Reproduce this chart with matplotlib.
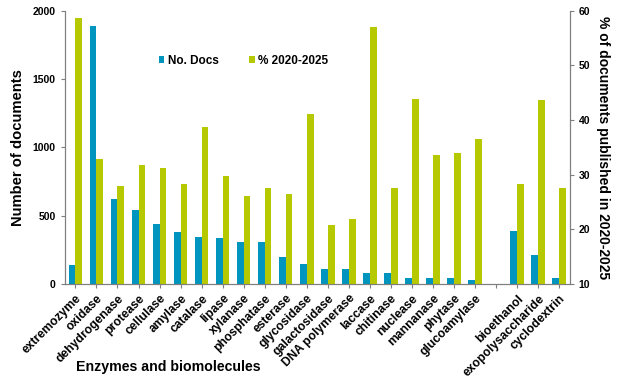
import matplotlib
matplotlib.use("Agg")
import matplotlib.pyplot as plt
import numpy as np

plt.rcParams['font.family'] = ['Liberation Sans', 'DejaVu Sans']
plt.rcParams['font.weight'] = 'bold'

# data ("" = empty gap slot)
categories = ["extremozyme", "oxidase", "dehydrogenase", "protease", "cellulase",
              "amylase", "catalase", "lipase", "xylanase", "phosphatase", "esterase",
              "glycosidase", "galactosidase", "DNA polymerase", "laccase", "chitinase",
              "nuclease", "mannanase", "phytase", "glucoamylase", "",
              "bioethanol", "exopolysaccharide", "cyclodextrin"]
no_docs = [140, 1890, 620, 540, 440, 380, 345, 340, 310, 310, 200,
           150, 110, 110, 80, 80, 45, 45, 45, 30, np.nan,
           385, 210, 45]
pct_2020_2025 = [58.6, 32.9, 27.9, 31.7, 31.2, 28.4, 38.8, 29.8, 26.2, 27.6, 26.4,
                 41.2, 20.9, 22.0, 57.1, 27.6, 43.8, 33.7, 33.9, 36.6, np.nan,
                 28.4, 43.6, 27.5]

blue = "#0095BF"
green = "#B5C800"
axis_grey = "#7f7f7f"

fig = plt.figure(figsize=(6.24, 3.86), dpi=100)
ax = fig.add_axes([0.104, 0.264, 0.809, 0.708])
ax2 = ax.twinx()

x = np.arange(len(categories))
w = 0.32
pct = np.array(pct_2020_2025, dtype=float)
b1 = ax.bar(x - w / 2, no_docs, width=w, color=blue, label="No. Docs")
b2 = ax2.bar(x + w / 2, pct - 10, bottom=10, width=w, color=green, label="% 2020-2025")

ax.set_xlim(-0.5, len(categories) - 0.5)
ax.set_ylim(0, 2000)
ax.set_yticks([0, 500, 1000, 1500, 2000])
ax2.set_ylim(10, 60)
ax2.set_yticks([10, 20, 30, 40, 50, 60])

ax.set_xticks(x)
ax.set_xticklabels(categories, rotation=45, ha="right", rotation_mode="anchor", fontsize=8.7)

for a in (ax, ax2):
    a.spines['top'].set_visible(False)
    for s in ('left', 'right', 'bottom'):
        a.spines[s].set_color(axis_grey)
    a.tick_params(colors=axis_grey, labelcolor="black", labelsize=7.5, length=3)

ax.tick_params(axis='x', pad=3, labelsize=8.7)

ax.set_ylabel("Number of documents", fontsize=10.6, fontweight='bold', labelpad=6)
ax2.set_ylabel("% of documents published in 2020-2025", fontsize=10, fontweight='bold',
               rotation=270, labelpad=14)
fig.text(0.121, 0.04, "Enzymes and biomolecules", fontsize=10.2, fontweight='bold')

fig.legend([b1, b2], ["No. Docs", "% 2020-2025"], loc="center left",
           bbox_to_anchor=(0.237, 0.842), ncol=2, frameon=False, fontsize=8.5,
           handlelength=0.5, handleheight=0.5, handletextpad=0.3, columnspacing=2.55)

fig.savefig("out.png", dpi=100)
